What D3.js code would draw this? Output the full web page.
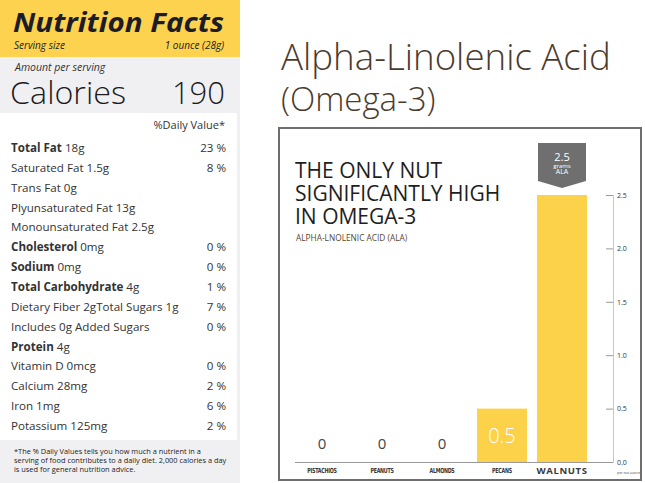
<!DOCTYPE html>
<html><head><meta charset="utf-8">
<script src="https://cdn.jsdelivr.net/npm/d3@7"></script>
<style>
html,body{margin:0;padding:0;background:#fff;}
svg{display:block;font-family:"Open Sans",sans-serif;}
</style></head>
<body>
<script>
// ---------- data ----------
const nutrients = ["Total Fat","Saturated Fat","Trans Fat","Plyunsaturated Fat","Monounsaturated Fat","Cholesterol","Sodium","Total Carbohydrate","Dietary Fiber 2gTotal Sugars","Includes 0g Added Sugars","Protein","Vitamin D","Calcium","Iron","Potassium"];
const amounts = ["18g","1.5g","0g","13g","2.5g","0mg","0mg","4g","1g","","4g","0mcg","28mg","1mg","125mg"];
const dailyValues = ["23 %","8 %","","","","0 %","0 %","1 %","7 %","0 %","","0 %","2 %","6 %","2 %"];
const boldRows = ["Total Fat","Cholesterol","Sodium","Total Carbohydrate","Protein"];

const nuts = ["PISTACHIOS","PEANUTS","ALMONDS","PECANS","WALNUTS"];
const alaGrams = [0, 0, 0, 0.5, 2.5];
const yTicks = [0, 0.5, 1.0, 1.5, 2.0, 2.5];

const W = 645, H = 483;
const svg = d3.select("body").append("svg").attr("width", W).attr("height", H);

function fit(sel, w){ // scale font size so text spans given width
  const n = sel.node(); const fs = parseFloat(sel.attr("font-size"));
  const cur = n.getComputedTextLength(); if(cur>0) sel.attr("font-size", fs*w/cur);
  return sel;
}

// ---------- left nutrition panel ----------
const L = svg.append("g");
L.append("rect").attr("x",0).attr("y",0).attr("width",240).attr("height",H).attr("fill","#f0f0f3");
L.append("rect").attr("x",0).attr("y",113).attr("width",237).attr("height",327).attr("fill","#ffffff");
L.append("rect").attr("x",0).attr("y",0).attr("width",240).attr("height",57).attr("fill","#fcd24e");

L.append("text").attr("x",13).attr("y",32).attr("font-size",26).attr("font-weight",700)
  .attr("font-style","italic").attr("fill","#1c1c28")
  .attr("textLength",211).attr("lengthAdjust","spacingAndGlyphs").text("Nutrition Facts");
L.append("text").attr("x",14).attr("y",49).attr("font-size",10).attr("font-style","italic").attr("fill","#222").text("Serving size");
L.append("text").attr("x",224).attr("y",49).attr("text-anchor","end").attr("font-size",10).attr("font-style","italic").attr("fill","#222").text("1 ounce (28g)");
L.append("text").attr("x",15).attr("y",71).attr("font-size",10.5).attr("font-style","italic").attr("fill","#333").text("Amount per serving");
L.append("text").attr("x",10).attr("y",104).attr("font-size",31).attr("font-weight",300).attr("fill","#1c1c1c")
  .attr("textLength",116).attr("lengthAdjust","spacingAndGlyphs").text("Calories");
L.append("text").attr("x",225).attr("y",104).attr("text-anchor","end").attr("font-size",31).attr("font-weight",300).attr("fill","#1c1c1c").text("190");
L.append("text").attr("x",225).attr("y",129).attr("text-anchor","end").attr("font-size",11).attr("fill","#333").text("%Daily Value*");

const rowY = d3.scalePoint().domain(nutrients).range([152, 430]);
nutrients.forEach((n,i)=>{
  const t = L.append("text").attr("x",11).attr("y",rowY(n)).attr("font-size",11.6).attr("fill","#333");
  t.append("tspan").attr("font-weight", boldRows.includes(n)?700:400).text(n);
  if(amounts[i]) t.append("tspan").text(" "+amounts[i]);
  if(dailyValues[i]) L.append("text").attr("x",226).attr("y",rowY(n)).attr("text-anchor","end")
    .attr("font-size",11.6).attr("fill","#333").text(dailyValues[i]);
});
const foot = ["*The % Daily Values tells you how much a nutrient in a","serving of food contributes to a daily diet. 2,000 calories a day","is used for general nutrition advice."];
foot.forEach((s,i)=>{
  L.append("text").attr("x",14).attr("y",454+i*9).attr("font-size",7.4).attr("fill","#222").text(s);
});

// ---------- right title ----------
fit(svg.append("text").attr("x",281).attr("y",70).attr("font-size",33).attr("font-weight",300).attr("fill","#4b3b2d").text("Alpha-Linolenic Acid"), 330);
svg.append("text").attr("x",281).attr("y",111).attr("font-size",33).attr("font-weight",300).attr("fill","#4b3b2d").text("(Omega-3)");

// ---------- chart box ----------
svg.append("rect").attr("x",279).attr("y",128).attr("width",362).attr("height",352)
  .attr("fill","#fff").attr("stroke","#6e6e6e").attr("stroke-width",2);

const C = svg.append("g");
["THE ONLY NUT","SIGNIFICANTLY HIGH","IN OMEGA-3"].forEach((s,i)=>{
  C.append("text").attr("x",295).attr("y",178+i*23).attr("font-size",21).attr("fill","#1e1e1e").text(s);
});
C.append("text").attr("x",296).attr("y",241).attr("font-size",8.3).attr("fill","#5a4630").text("ALPHA-LNOLENIC ACID (ALA)");

const x = d3.scalePoint().domain(nuts).range([322, 562]);
const bw = 50;
const y = d3.scaleLinear().domain([0, 2.5]).range([462, 195]);

// baseline
C.append("line").attr("x1",295).attr("x2",612).attr("y1",y(0)+0.5).attr("y2",y(0)+0.5).attr("stroke","#9a9a9a").attr("stroke-width",1);

// y axis at right
const yAxis = d3.axisLeft(y).tickValues(yTicks).tickFormat(d3.format(".1f")).tickSize(7);
const ya = C.append("g").attr("transform","translate(613,0)").call(yAxis);
ya.select(".domain").attr("stroke","#c8c8c8");
ya.selectAll(".tick line").attr("stroke","#999");
ya.selectAll(".tick text").attr("x",4).attr("text-anchor","start").attr("font-size",7)
  .attr("font-family","Open Sans").attr("fill","#333");
C.append("text").attr("x",617).attr("y",474).attr("font-size",3.5).attr("fill","#444").text("per nut-ounce");

// bars
C.selectAll("rect.bar").data(nuts.map((n,i)=>({n,v:alaGrams[i]})).filter(d=>d.v>0)).enter()
  .append("rect").attr("class","bar")
  .attr("x",d=>x(d.n)-bw/2).attr("width",bw)
  .attr("y",d=>y(d.v)).attr("height",d=>y(0)-y(d.v)).attr("fill","#fcd24b");

// value labels
nuts.forEach((n,i)=>{
  const v = alaGrams[i];
  if(v===0){
    C.append("text").attr("x",x(n)).attr("y",449).attr("text-anchor","middle").attr("font-size",15).attr("font-weight",400).attr("fill","#444").text("0");
  } else if(v < 1){
    C.append("text").attr("x",x(n)).attr("y",443).attr("text-anchor","middle").attr("font-size",20).attr("font-weight",300).attr("fill","#fff").text(String(v));
  } else {
    const cx = x(n), top = y(v);
    const g = C.append("g");
    const b = top-52; // box top
    g.append("path").attr("d",`M${cx-24},${b} H${cx+24} V${b+38} L${cx},${b+45} L${cx-24},${b+38} Z`).attr("fill","#6f6f6f");
    g.append("text").attr("x",cx).attr("y",b+18).attr("text-anchor","middle").attr("font-size",11).attr("fill","#fff").text(String(v));
    g.append("text").attr("x",cx).attr("y",b+24.5).attr("text-anchor","middle").attr("font-size",6).attr("fill","#fff").text("grams");
    g.append("text").attr("x",cx).attr("y",b+31).attr("text-anchor","middle").attr("font-size",7).attr("fill","#fff").text("ALA");
  }
});

// category labels
nuts.forEach((n,i)=>{
  const big = i===nuts.length-1;
  const t = C.append("text").attr("x",x(n)).attr("y",big?474:473).attr("text-anchor","middle")
    .attr("font-family", big?"Open Sans":"DejaVu Sans Condensed")
    .attr("font-size", big?9.5:7).attr("font-weight",700)
    .attr("letter-spacing", big?0.6:-0.3)
    .attr("fill", big?"#3a3a3a":"#333").text(n);
  if(!big){
    const w = t.node().getComputedTextLength();
    t.attr("text-anchor","start").attr("x", x(n)-w*0.75/2)
     .attr("textLength", w*0.75).attr("lengthAdjust","spacingAndGlyphs");
  }
});
</script>
</body></html>
